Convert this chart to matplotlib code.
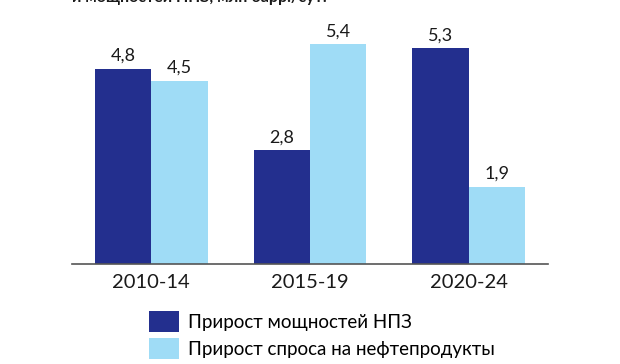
import matplotlib
matplotlib.use("Agg")
import matplotlib.pyplot as plt
import numpy as np

plt.rcParams['font.family'] = ['Lato', 'DejaVu Sans']

categories = ["2010-14", "2015-19", "2020-24"]
capacity = [4.8, 2.8, 5.3]
demand = [4.5, 5.4, 1.9]
series_names = ["Прирост мощностей НПЗ", "Прирост спроса на нефтепродукты"]
title_text = "и мощностей НПЗ, млн барр./сут."

dark = "#232F8E"
light = "#9FDCF6"

fig = plt.figure(figsize=(6.2, 3.64), dpi=100)
ax = fig.add_axes([72/620, 1 - 264/364, (548 - 72)/620, (264 - 20)/364])

x = np.arange(len(categories))
w = 0.355
b1 = ax.bar(x - w/2, capacity, width=w, color=dark, label=series_names[0])
b2 = ax.bar(x + w/2, demand, width=w, color=light, label=series_names[1])

for bars, vals in ((b1, capacity), (b2, demand)):
    for r, v in zip(bars, vals):
        ax.text(r.get_x() + r.get_width()/2, v + 0.12, f"{v:.1f}".replace(".", ","),
                ha='center', va='bottom', fontsize=13, color='#1a1a1a')

ax.set_xlim(-0.5, 2.5)
ax.set_ylim(0, 6.0)
ax.set_xticks(x)
ax.set_xticklabels(categories, fontsize=14.5, color='#1a1a1a')
ax.tick_params(axis='x', length=0, pad=7)
ax.set_yticks([])
for s in ['top', 'right', 'left']:
    ax.spines[s].set_visible(False)
ax.spines['bottom'].set_color('#555555')
ax.spines['bottom'].set_linewidth(1.2)

fig.legend(handles=[b1, b2], labels=series_names, loc='upper left',
           bbox_to_anchor=(136/620, 1 - 298/364), frameon=False,
           fontsize=13.5, handlelength=1.6, handleheight=1.3,
           handletextpad=0.45, labelspacing=0.35, borderpad=0.2)

fig.text(72/620, 1 - 2/364, title_text, fontsize=11.5, fontweight='bold',
         ha='left', va='baseline', color='#1a1a1a')

fig.savefig("out.png", dpi=100)
